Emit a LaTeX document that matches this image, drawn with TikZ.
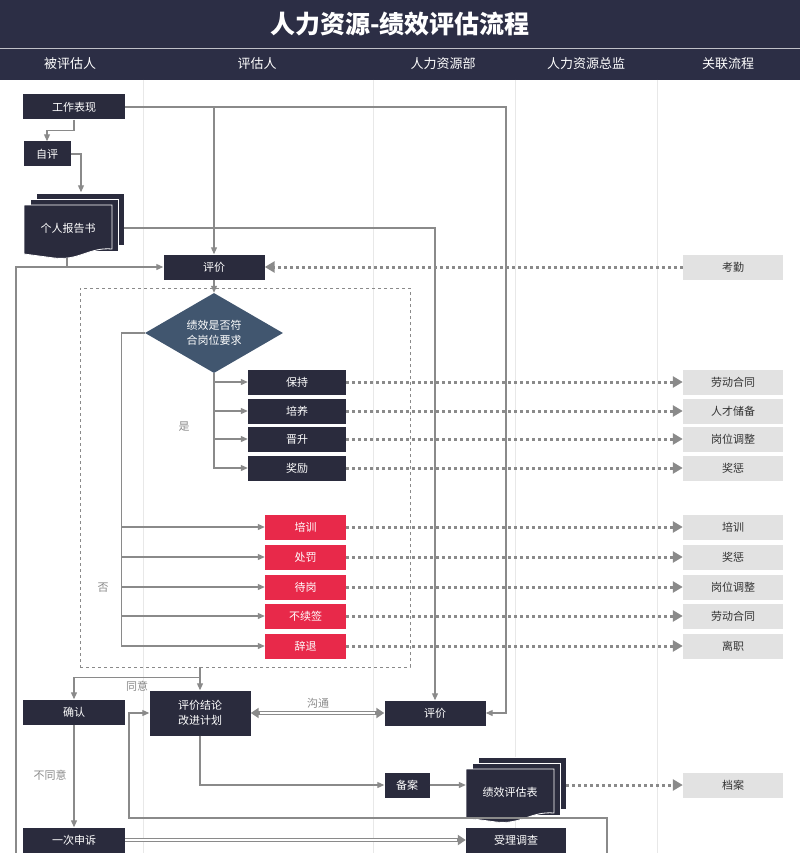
\documentclass[tikz,border=0pt]{standalone}
\usepackage{fontspec}
\setmainfont{Noto Sans CJK SC}
\usetikzlibrary{arrows.meta,shapes.geometric}

\definecolor{headdark}{HTML}{2C2E45}
\definecolor{boxdark}{HTML}{2A2B3D}
\definecolor{judgeblue}{HTML}{41566F}
\definecolor{boxred}{HTML}{E8294A}
\definecolor{linkgray}{HTML}{E2E2E2}
\definecolor{linegray}{HTML}{8A8A8A}
\definecolor{lanegray}{HTML}{E8E8E8}

\tikzset{
    box/.style={fill=boxdark, text=white, minimum height=25pt, inner sep=0pt,
        font=\fontsize{11}{13}\selectfont},
    redbox/.style={box, fill=boxred, minimum width=81pt},
    outcome/.style={box, minimum width=98pt},
    linkbox/.style={fill=linkgray, text=black!80, minimum width=100pt, minimum height=25pt,
        inner sep=0pt, font=\fontsize{11}{13}\selectfont},
    flow/.style={draw=linegray, line width=1.1pt, -{Triangle[length=7pt,width=6pt]}},
    plain/.style={draw=linegray, line width=1.1pt},
    link/.style={draw=linegray, line width=3pt, dash pattern=on 3pt off 3pt,
        -{Triangle[length=10pt,width=11pt]}},
    tag/.style={text=linegray, font=\fontsize{11}{13}\selectfont},
    lane/.style={text=white, font=\fontsize{13}{15}\selectfont},
}

% stack of documents: name, position, text
\newcommand{\docstack}[3]{%
    \begin{scope}[shift={#2}]
        \fill[boxdark, draw=white, line width=0.8pt] (-38,-32) rectangle (50,20);
        \fill[boxdark, draw=white, line width=0.8pt] (-44,-26) rectangle (44,26);
        \fill[boxdark, draw=white, line width=0.8pt] (-50,-20) -- (38,-20) -- (38,24)
            .. controls (15,22) and (5,36) .. (-20,33)
            .. controls (-35,31) .. (-50,29) -- cycle;
        \node[text=white, font=\fontsize{11}{13}\selectfont] (#1text) at (-6,3) {#3};
    \end{scope}
    \node[minimum width=100pt, minimum height=65pt, inner sep=0pt] (#1) at #2 {};
}

\begin{document}
\begin{tikzpicture}[x=1pt, y=-1pt]
\useasboundingbox (0,0) rectangle (800,853);

% Header
\fill[headdark] (0,0) rectangle (800,80);
\draw[white!70!headdark, line width=0.6pt] (0,48) -- (800,48);
\node[text=white, font=\bfseries\fontsize{25}{29}\selectfont] (title) at (400,24) {人力资源-绩效评估流程};
\node[lane] (laneA) at (70,64) {被评估人};
\node[lane] (laneB) at (257,64) {评估人};
\node[lane] (laneC) at (443,64) {人力资源部};
\node[lane] (laneD) at (586,64) {人力资源总监};
\node[lane] (laneE) at (728,64) {关联流程};

% Lanes
\foreach \x in {143,373,515,657}
    \draw[lanegray, line width=0.8pt] (\x,80) -- (\x,853);

% Dashed frame
\node[draw=linegray, dashed, minimum width=330pt, minimum height=379pt, inner sep=0pt]
    (scopebox) at (245,477.5) {};

% Employee side
\node[box, minimum width=102pt] (work) at (74,107) {工作表现};
\node[box, minimum width=47pt] (self) at (47,154) {自评};
\docstack{report}{(74,225)}{个人报告书}

% First evaluation
\node[box, minimum width=101pt] (evalA) at (214,267) {评价};
\node[linkbox] (attend) at (733,267) {考勤};
\node[diamond, aspect=1.75, fill=judgeblue, text=white, inner sep=0pt,
    minimum width=138pt, minimum height=80pt, align=center,
    font=\fontsize{11}{15}\selectfont] (judge) at (214,333) {绩效是否符\\合岗位要求};

% Outcomes
\foreach \name/\txt/\y/\ref in {keep/保持/382/劳动合同, grow/培养/411/人才储备,
        promote/晋升/439/岗位调整, reward/奖励/468/奖惩} {
    \node[outcome] (\name) at (297,\y) {\txt};
    \node[linkbox] (\name link) at (733,\y) {\ref};
    \draw[flow] (judge.south) |- (\name.west);
    \draw[link] (\name.east) -- (\name link.west);
}
\foreach \name/\txt/\y/\ref in {training/培训/527/培训, punish/处罚/557/奖惩,
        standby/待岗/587/岗位调整, renew/不续签/616/劳动合同, dismiss/辞退/646/离职} {
    \node[redbox] (\name) at (305.5,\y) {\txt};
    \node[linkbox] (\name link) at (733,\y) {\ref};
    \draw[flow] (judge.west) -- ++(-23,0) |- (\name.west);
    \draw[link] (\name.east) -- (\name link.west);
}
\node[tag] (yes) at (184,427) {是};
\node[tag] (no) at (103,588) {否};

% Conclusion
\node[box, minimum width=102pt] (confirm) at (74,712) {确认};
\node[box, minimum width=101pt, minimum height=45pt, align=center,
    font=\fontsize{11}{15}\selectfont] (concl) at (200,713) {评价结论\\改进计划};
\node[box, minimum width=101pt] (evalB) at (435,713) {评价};
\node[box, minimum width=45pt] (file) at (407,785) {备案};
\docstack{form}{(516,789)}{绩效评估表}
\node[linkbox] (archive) at (733,785) {档案};
\node[box, minimum width=102pt] (appeal) at (74,840) {一次申诉};
\node[box, minimum width=100pt] (inquiry) at (516,840) {受理调查};
\node[tag] (agree) at (137,686) {同意};
\node[tag] (talk) at (318,703) {沟通};
\node[tag] (disagree) at (50,775) {不同意};

\coordinate (loopL) at (16,853);
\coordinate (loopR) at (607,853);
\coordinate (rtop) at (506,107);

% Connectors
\draw[flow] (work.east) -| (evalA.north);
\draw[flow] (work.east) -- (rtop) |- (evalB.east);
\draw[flow] (work.south) -- ++(0,11) -| (self.north);
\draw[flow] (self.east) -| ([xshift=7pt]report.north);
\draw[flow] ([yshift=-3pt]report.east) -| (evalB.north);
\draw[plain] ([xshift=-7pt]report.south) -- ++(0,9);
\draw[flow] (loopL) |- (evalA.west);
\draw[link] (attend.west) -- (evalA.east);
\draw[flow] (evalA.south) -- (judge.north);
\draw[flow] ([xshift=-45pt]scopebox.south) -- (concl.north);
\draw[flow] ([xshift=-45pt]scopebox.south) -- ++(0,10) -| (confirm.north);
\draw[linegray, line width=4pt, {Triangle[length=8pt,width=10pt]}-{Triangle[length=8pt,width=10pt]}]
    (concl.east) -- (evalB.west);
\draw[white, line width=1.3pt] ([xshift=9pt]concl.east) -- ([xshift=-9pt]evalB.west);
\draw[flow] (concl.south) |- (file.west);
\draw[flow] (file.east) -- ([yshift=4pt]form.west);
\draw[link] ([yshift=4pt]form.east) -- (archive.west);
\draw[flow] (confirm.south) -- (appeal.north);
\draw[linegray, line width=4pt, -{Triangle[length=8pt,width=10pt]}] (appeal.east) -- (inquiry.west);
\draw[white, line width=1.3pt] (appeal.east) -- ([xshift=-9pt]inquiry.west);
\draw[flow] (loopR) |- (129,818) |- (concl.west);

\end{tikzpicture}
\end{document}
